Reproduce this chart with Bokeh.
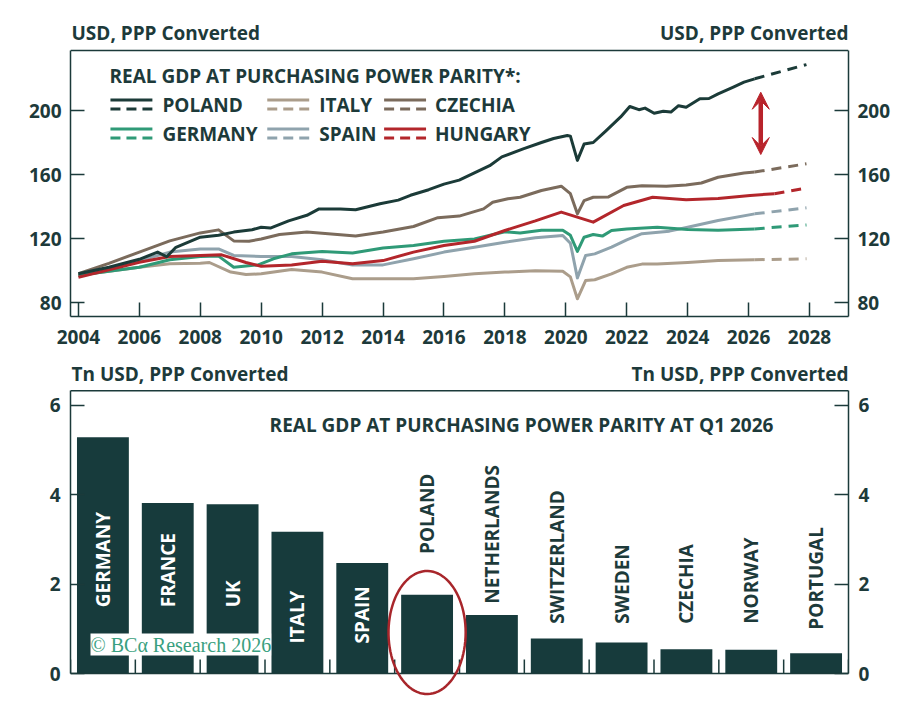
import numpy as np
from bokeh.plotting import figure
from bokeh.models import (ColumnDataSource, FixedTicker, LinearAxis, Range1d, Label,
                          Arrow, VeeHead, PolyAnnotation, Span)
from bokeh.layouts import column
from bokeh.embed import file_html
from bokeh.resources import INLINE
from bokeh.core.properties import value

# ---------------- data: top chart (USD, PPP converted) ----------------
poland_t = [2004.0, 2005.0, 2006.0, 2006.6, 2006.9, 2007.2, 2008.0, 2008.6, 2009.1, 2009.7, 2010.0,
            2010.3, 2010.9, 2011.5, 2011.9, 2012.6, 2013.1, 2013.9, 2014.5, 2014.9, 2015.5, 2016.0,
            2016.5, 2017.0, 2017.5, 2017.9, 2018.6, 2019.2, 2019.6, 2020.05, 2020.15, 2020.38,
            2020.6, 2020.9, 2021.3, 2021.8, 2022.1, 2022.4, 2022.6, 2022.9, 2023.2, 2023.45,
            2023.7, 2023.95, 2024.4, 2024.7, 2025.0, 2025.5, 2025.85, 2026.2]
poland_v = [98, 102, 107, 111.5, 108.6, 114.5, 120.8, 122, 124, 125.5, 127,
            126.5, 131, 134.5, 138.5, 138.5, 138, 141.7, 144, 147, 150.5, 154,
            156.5, 161, 165.5, 171, 176, 180, 182.5, 184.4, 184, 168.8,
            179, 180, 187, 196, 202.5, 200.5, 201.5, 198.3, 199.5, 199,
            203, 202, 207.3, 207.5, 210.4, 214.6, 217.7, 219.8]

czechia_t = [2004.0, 2005.0, 2006.0, 2007.0, 2008.0, 2008.6, 2009.1, 2009.6, 2010.0, 2010.6, 2011.5,
             2012.5, 2013.1, 2014.0, 2015.0, 2015.8, 2016.5, 2017.3, 2017.6, 2018.1, 2018.5, 2019.2,
             2019.85, 2020.15, 2020.38, 2020.6, 2020.9, 2021.4, 2022.0, 2022.5, 2023.3, 2023.95,
             2024.45, 2025.0, 2025.85, 2026.2]
czechia_v = [98, 104.5, 111.5, 118.5, 123.5, 125.4, 118.5, 118.3, 119.7, 122.5, 124,
             122.5, 121.5, 124, 127.5, 133, 134, 138.5, 142.7, 144.8, 145.8, 150,
             152.7, 148, 135.4, 143.7, 145.8, 146, 152, 153, 152.7, 153.4,
             154.7, 158.3, 161, 161.5]

hungary_t = [2004.0, 2005.0, 2006.0, 2007.0, 2008.0, 2008.7, 2009.5, 2010.0, 2011.0, 2012.0, 2013.0,
             2014.0, 2015.0, 2016.0, 2017.0, 2018.0, 2019.0, 2019.85, 2020.9, 2021.9, 2022.85,
             2023.95, 2025.0, 2026.05, 2026.85]
hungary_v = [95.8, 100.5, 105.2, 108.7, 109.4, 109.8, 105, 102.7, 103.5, 105.8, 104.2,
             106.2, 111.5, 115.6, 118.3, 125, 131, 136.5, 130.2, 140.6, 145.8,
             144.2, 145, 146.9, 148]

germany_t = [2004.0, 2005.0, 2006.0, 2007.0, 2008.0, 2008.6, 2009.1, 2009.9, 2010.4, 2011.0, 2012.0,
             2013.0, 2014.0, 2015.0, 2016.0, 2017.0, 2018.0, 2018.5, 2019.2, 2019.9, 2020.15,
             2020.38, 2020.6, 2020.9, 2021.2, 2021.5, 2022.0, 2023.0, 2024.0, 2025.0, 2026.2]
germany_v = [97, 99.5, 102, 106.7, 108.7, 109, 102, 103.5, 107.3, 110.4, 111.9,
             111, 114, 115.6, 118.3, 119.7, 124.2, 123.5, 125.2, 125.2, 122,
             111.9, 120.8, 122.5, 121.5, 125, 126, 127, 125.6, 125.2, 126]

spain_t = [2004.0, 2005.0, 2006.0, 2007.0, 2008.0, 2008.6, 2009.1, 2010.0, 2011.0, 2012.0, 2013.0,
           2014.0, 2015.0, 2016.0, 2017.0, 2018.0, 2019.0, 2019.9, 2020.15, 2020.38, 2020.65,
           2020.95, 2021.5, 2022.0, 2022.5, 2023.4, 2024.0, 2025.0, 2026.2]
spain_v = [97, 101.5, 106.2, 111.5, 113.5, 113.5, 109.4, 108.7, 108.7, 106.7, 103.5,
           103.5, 107.3, 111.5, 114.5, 117.7, 120.4, 121.9, 117, 95.4, 109.4,
           110.4, 114.6, 119.2, 123, 124.6, 127, 131.2, 135.4]

italy_t = [2004.0, 2005.0, 2006.0, 2007.0, 2008.0, 2008.3, 2009.0, 2009.5, 2010.0, 2011.0, 2012.0,
           2013.0, 2014.0, 2015.0, 2016.0, 2017.0, 2018.0, 2019.0, 2019.9, 2020.15, 2020.38,
           2020.65, 2020.95, 2021.5, 2022.0, 2022.5, 2023.0, 2024.0, 2025.0, 2026.2]
italy_v = [97, 99.5, 102, 104.2, 104.6, 105, 99, 97.5, 97.9, 100.6, 99,
           94.8, 94.8, 94.8, 96.2, 97.9, 99, 99.8, 99.5, 96, 82.3,
           93.7, 94.2, 97.9, 102, 104, 104, 105, 106.2, 106.7]

# projections (dashed): [start, end]
poland_proj_t = [2026.2, 2027.9]
poland_proj_v = [219.8, 228.7]
czechia_proj_t = [2026.2, 2027.9]
czechia_proj_v = [161.5, 166.7]
hungary_proj_t = [2026.85, 2027.9]
hungary_proj_v = [148, 151.5]
germany_proj_t = [2026.2, 2027.9]
germany_proj_v = [126, 128.5]
spain_proj_t = [2026.2, 2027.9]
spain_proj_v = [135.4, 139.2]
italy_proj_t = [2026.2, 2027.9]
italy_proj_v = [106.7, 107.3]

top_xticks = [2004, 2006, 2008, 2010, 2012, 2014, 2016, 2018, 2020, 2022, 2024, 2026, 2028]
top_yticks = [80, 120, 160, 200]

# ---------------- data: bottom chart (Tn USD) ----------------
countries = ["GERMANY", "FRANCE", "UK", "ITALY", "SPAIN", "POLAND", "NETHERLANDS",
             "SWITZERLAND", "SWEDEN", "CZECHIA", "NORWAY", "PORTUGAL"]
gdp_tn = [5.28, 3.81, 3.78, 3.17, 2.47, 1.76, 1.31, 0.78, 0.69, 0.54, 0.53, 0.45]
bottom_yticks = [0, 2, 4, 6]

# ---------------- style ----------------
DARK = "#1b3a3a"
BAR = "#173b3c"
TXT = "#1d3a3a"
RED = "#b8232b"
FONT = "Open Sans"
FS = "19px"
C_POL = "#1b3b38"
C_ITA = "#ab9d8b"
C_CZE = "#7b6b5c"
C_GER = "#2f9a77"
C_ESP = "#8fa3ad"
C_HUN = "#b3262b"

series = [
    ("POLAND", poland_t, poland_v, poland_proj_t, poland_proj_v, C_POL),
    ("ITALY", italy_t, italy_v, italy_proj_t, italy_proj_v, C_ITA),
    ("CZECHIA", czechia_t, czechia_v, czechia_proj_t, czechia_proj_v, C_CZE),
    ("GERMANY", germany_t, germany_v, germany_proj_t, germany_proj_v, C_GER),
    ("SPAIN", spain_t, spain_v, spain_proj_t, spain_proj_v, C_ESP),
    ("HUNGARY", hungary_t, hungary_v, hungary_proj_t, hungary_proj_v, C_HUN),
]
draw_order = ["ITALY", "SPAIN", "GERMANY", "HUNGARY", "CZECHIA", "POLAND"]


def style_axis(ax):
    ax.axis_line_color = DARK
    ax.axis_line_width = 1.5
    ax.major_tick_line_color = DARK
    ax.major_tick_line_width = 1.5
    ax.major_tick_in = 14
    ax.major_tick_out = 0
    ax.minor_tick_line_color = None
    ax.major_label_text_color = TXT
    ax.major_label_text_font = FONT
    ax.major_label_text_font_style = "bold"
    ax.major_label_text_font_size = FS


def txt_label(x, y, text, align="left", size=FS):
    return Label(x=x, y=y, text=text, text_font=FONT, text_font_style="bold",
                 text_font_size=size, text_color=TXT, text_baseline="middle", text_align=align)


# ---------------- top figure ----------------
# frame: x 69..848 px ; visible box y 50..316 px (frame extended up to 20 px for the unit labels)
X0, X1 = 2003.74, 2029.28
Y0, YBOX = 71.25, 237.5
PXX = 30.5   # px per year
PXY = 1.6    # px per unit
YTOP = YBOX + 30 / PXY


def tx(px):
    return X0 + (px - 69) / PXX


def ty(py):
    return YBOX - (py - 50) / PXY


p1 = figure(width=904, height=358, min_border_left=69, min_border_right=56,
            min_border_top=20, min_border_bottom=42,
            x_range=Range1d(X0, X1), y_range=Range1d(Y0, YTOP),
            output_backend="svg", toolbar_location=None, title=None)
p1.grid.visible = False
p1.outline_line_color = None

p1.xaxis.ticker = FixedTicker(ticks=top_xticks)
p1.yaxis.ticker = FixedTicker(ticks=top_yticks)
style_axis(p1.xaxis[0])
style_axis(p1.yaxis[0])
p1.xaxis.major_label_standoff = 13
p1.yaxis.major_label_standoff = 9
p1.yaxis.bounds = (Y0, YBOX)
ry = LinearAxis(ticker=FixedTicker(ticks=top_yticks), bounds=(Y0, YBOX))
style_axis(ry)
ry.major_label_standoff = 9
p1.add_layout(ry, "right")
p1.add_layout(Span(location=YBOX, dimension="width", line_color=DARK, line_width=1.5))

lookup = {s[0]: s for s in series}
for name in draw_order:
    _, t, v, pt, pv, col = lookup[name]
    p1.line(t, v, line_color=col, line_width=3, line_join="round")
    p1.line(pt, pv, line_color=col, line_width=3, line_dash="10 7")

# red double arrow (gap Poland vs Czechia)
p1.add_layout(Arrow(start=VeeHead(size=17, fill_color=RED, line_color=RED),
                    end=VeeHead(size=17, fill_color=RED, line_color=RED),
                    x_start=2026.4, y_start=172.5, x_end=2026.4, y_end=211.4,
                    line_color=RED, line_width=4.5))

# unit labels above the box
p1.add_layout(txt_label(tx(70), ty(32), "USD, PPP Converted"))
p1.add_layout(txt_label(X1, ty(32), "USD, PPP Converted", align="right"))

# legend
p1.add_layout(txt_label(tx(108), ty(75), "REAL GDP AT PURCHASING POWER PARITY*:"))
leg_cols = [(109, 161), (266, 318), (383, 434)]
leg_rows = [104, 133]
for i, s in enumerate(series):
    name, col = s[0], s[5]
    sx, lx = leg_cols[i % 3]
    rpx = leg_rows[i // 3]
    p1.add_layout(Arrow(end=None, x_start=tx(sx), x_end=tx(sx + 42), y_start=ty(rpx - 4.5),
                        y_end=ty(rpx - 4.5), line_color=col, line_width=3))
    p1.add_layout(Arrow(end=None, x_start=tx(sx), x_end=tx(sx + 42), y_start=ty(rpx + 4.5),
                        y_end=ty(rpx + 4.5), line_color=col, line_width=3, line_dash="10 6"))
    p1.add_layout(txt_label(tx(lx), ty(rpx), name))

# ---------------- bottom figure ----------------
# frame x 70..848 px ; visible box y 390..673 px (frame spans 360..697)
BYBOX = 6.32
BPX = 778 / len(countries)
BPY = 44.75
B_TOP = (673 - 360) / BPY
B_BOT = -(697 - 673) / BPY


def bx(px):
    return (px - 70) / BPX


def by(py):
    return (673 - py) / BPY


p2 = figure(width=904, height=343, min_border_left=70, min_border_right=56,
            min_border_top=2, min_border_bottom=4,
            x_range=Range1d(0, len(countries)), y_range=Range1d(B_BOT, B_TOP),
            x_axis_location=None,
            output_backend="svg", toolbar_location=None, title=None)
p2.grid.visible = False
p2.outline_line_color = None

idx = np.arange(len(countries)) + 0.5
src = ColumnDataSource(dict(x=idx, top=gdp_tn, name=countries))
p2.vbar(x="x", top="top", width=0.8, bottom=0, source=src, fill_color=BAR, line_color=None)

# box & category-boundary ticks
p2.yaxis.ticker = FixedTicker(ticks=bottom_yticks)
style_axis(p2.yaxis[0])
p2.yaxis.major_label_standoff = 10
p2.yaxis.bounds = (0, BYBOX)
ry2 = LinearAxis(ticker=FixedTicker(ticks=bottom_yticks), bounds=(0, BYBOX))
style_axis(ry2)
ry2.major_label_standoff = 10
p2.add_layout(ry2, "right")
p2.add_layout(Span(location=BYBOX, dimension="width", line_color=DARK, line_width=1.5))
p2.add_layout(Span(location=0, dimension="width", line_color=DARK, line_width=1.5))
bounds_x = list(range(len(countries) + 1))
p2.segment(x0=bounds_x, y0=[0] * len(bounds_x), x1=bounds_x, y1=[14 / BPY] * len(bounds_x),
           line_color=DARK, line_width=1.5)

# bar labels: inside (white) for big bars, above for small ones
inside = [v > 2.0 for v in gdp_tn]
label_y = []
for v, ins, nm in zip(gdp_tn, inside, countries):
    if ins:
        label_y.append(1.48 if v > 3.5 else 0.67)
    elif nm == "POLAND":
        label_y.append(v + 0.91)
    else:
        label_y.append(max(v + 0.25, 0.98 if nm == "PORTUGAL" else 1.11))
lab_src = ColumnDataSource(dict(x=idx, y=label_y, name=countries,
                                color=["white" if i else TXT for i in inside]))
p2.text(x="x", y="y", text="name", source=lab_src, angle=np.pi / 2, text_align="left",
        text_baseline="middle", text_color="color", text_font=value(FONT),
        text_font_style="bold", text_font_size=FS)

# chart title and unit labels
p2.add_layout(txt_label(bx(521), by(424), "REAL GDP AT PURCHASING POWER PARITY AT Q1 2026",
                        align="center"))
p2.add_layout(txt_label(bx(71), by(373), "Tn USD, PPP Converted"))
p2.add_layout(txt_label(len(countries), by(373), "Tn USD, PPP Converted", align="right"))

# watermark
p2.add_layout(Label(x=bx(90), y=by(644), text="© BCα Research 2026", text_font="Liberation Serif",
                    text_font_size="20px", text_color="#3a9f80", text_baseline="middle",
                    text_align="left", background_fill_color="white", background_fill_alpha=1))

# red ellipse around Poland
pol = countries.index("POLAND")
th = np.linspace(0, 2 * np.pi, 90)
cx, cy = pol + 0.5, gdp_tn[pol] * 0.52
ex = list(cx + 0.595 * np.cos(th))
ey = list(cy + 1.375 * np.sin(th))
p2.add_layout(PolyAnnotation(xs=ex, ys=ey, fill_alpha=0, line_color="#a8262b",
                             line_alpha=1, line_width=2.5))

layout = column(p1, p2, spacing=0)
open("out.html", "w").write(file_html(layout, INLINE))
